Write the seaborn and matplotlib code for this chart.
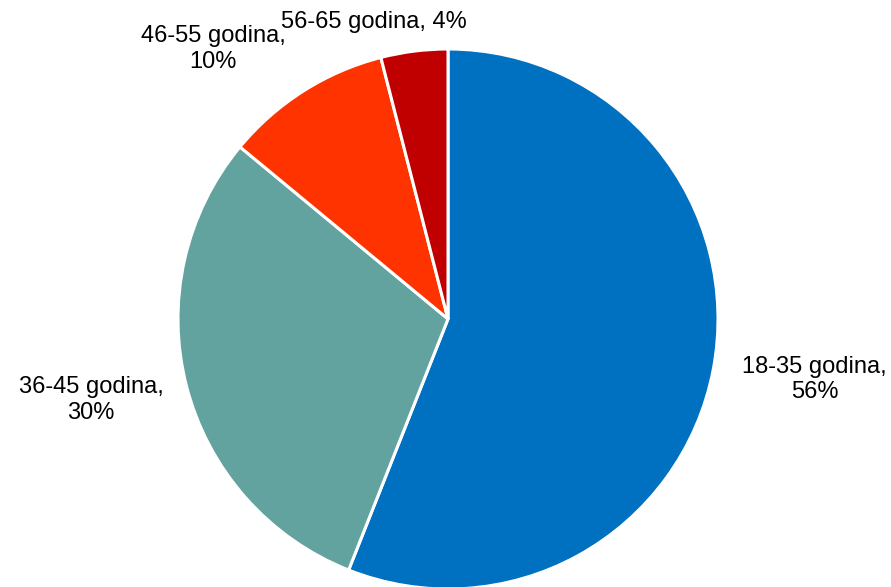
import matplotlib
matplotlib.use("Agg")
import matplotlib.pyplot as plt
import seaborn as sns

# === Data ===
groups = ["18-35 godina", "36-45 godina", "46-55 godina", "56-65 godina"]
shares = [56, 30, 10, 4]
colors = ["#0070C0", "#62A39F", "#FF3300", "#C00000"]

# label text layout (data coords, pie radius = 1)
label_pos = [(1.358, -0.225), (-1.322, -0.30), (-0.87, 1.0), (-0.274, 1.10)]
label_text = ["18-35 godina,\n56%", "36-45 godina,\n30%", "46-55 godina,\n10%", "56-65 godina, 4%"]

sns.set_style("white")
plt.rcParams["font.family"] = ["Liberation Sans", "DejaVu Sans"]

fig = plt.figure(figsize=(8.91, 5.87), dpi=100)
# pie centre at ~(448, 319) px, radius ~270 px
ax = fig.add_axes([178 / 891, (587 - 589) / 587, 540 / 891, 540 / 587])
ax.pie(shares, colors=colors, startangle=90, counterclock=False,
       wedgeprops=dict(edgecolor="white", linewidth=2.2))
ax.set_xlim(-1, 1)
ax.set_ylim(-1, 1)
ax.set_aspect("equal")
ax.axis("off")

for (x, y), txt in zip(label_pos, label_text):
    ax.text(x, y, txt, ha="center", va="center", multialignment="center",
            fontsize=17, color="black", clip_on=False)

fig.savefig("out.png", dpi=100)
plt.close()
